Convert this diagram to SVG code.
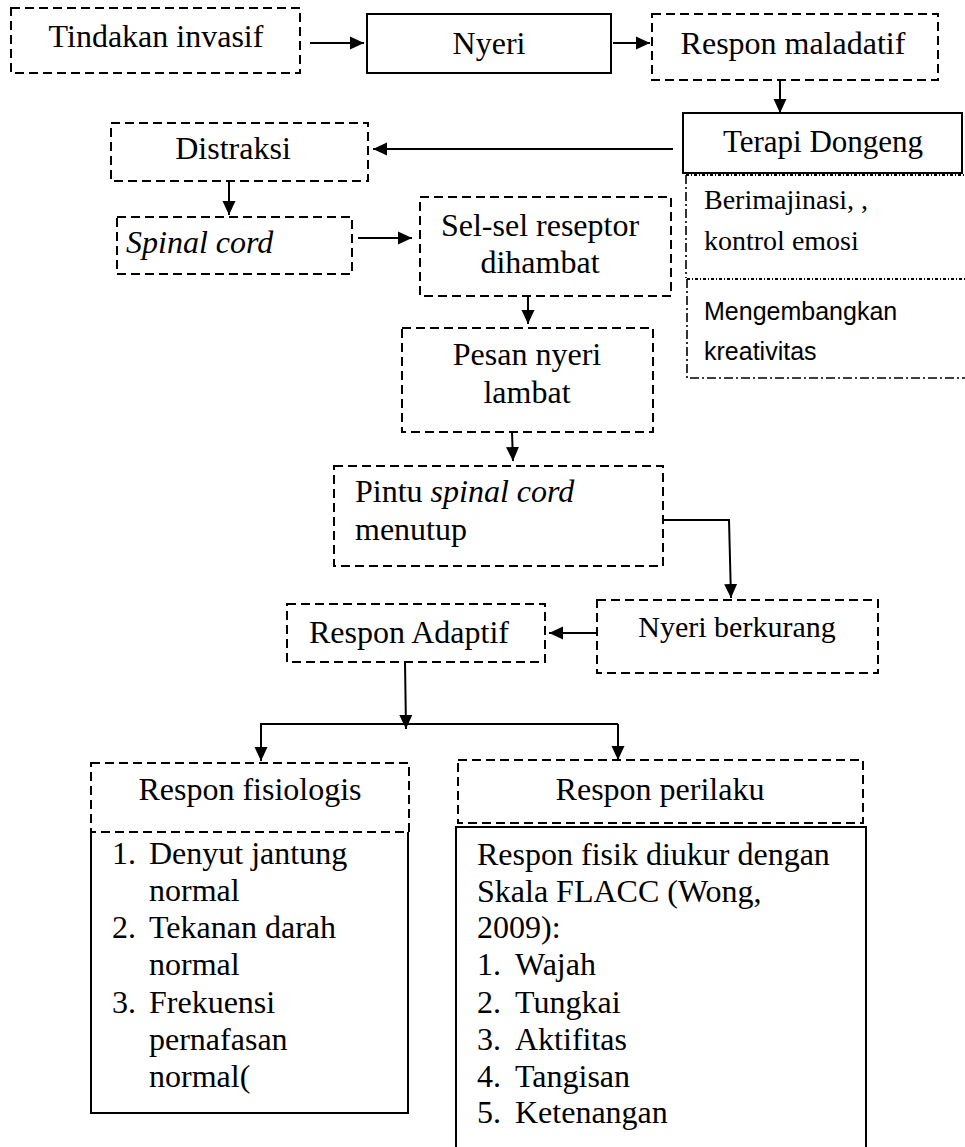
<svg xmlns="http://www.w3.org/2000/svg" width="965" height="1147" viewBox="0 0 965 1147">
<style>
.bg{fill:#fff}
.dash{fill:none;stroke:#000;stroke-width:2;stroke-dasharray:9 5}
.solid{fill:none;stroke:#000;stroke-width:2}
.dd{fill:none;stroke:#000;stroke-width:1.6;stroke-dasharray:9 3 2 3}
.ddt{fill:none;stroke:#000;stroke-width:2.2;stroke-dasharray:3 2 1 2}
.c{fill:none;stroke:#000;stroke-width:2}
text{font-family:"Liberation Serif","Times New Roman",serif;font-size:32px;fill:#000}
.m{text-anchor:middle}
.i{font-style:italic}
.s{font-family:"Liberation Sans",Arial,sans-serif;font-size:25px}
</style>
<defs>
<marker id="ah" viewBox="0 0 14 14" refX="14" refY="7" markerWidth="14" markerHeight="14" markerUnits="userSpaceOnUse" orient="auto"><path d="M0,0.5 L14,7 L0,13.5 z" fill="#000"/></marker>
</defs>
<rect class="bg" x="0" y="0" width="965" height="1147"/>

<g id="connectors">
<line class="c" x1="310" y1="43" x2="364" y2="43" marker-end="url(#ah)"/>
<line class="c" x1="613" y1="43" x2="650" y2="43" marker-end="url(#ah)"/>
<line class="c" x1="780" y1="80" x2="780" y2="113" marker-end="url(#ah)"/>
<line class="c" x1="673" y1="149" x2="373" y2="149" marker-end="url(#ah)"/>
<line class="c" x1="229" y1="181" x2="229" y2="215" marker-end="url(#ah)"/>
<line class="c" x1="358" y1="238" x2="412" y2="238" marker-end="url(#ah)"/>
<line class="c" x1="528" y1="296" x2="528" y2="324" marker-end="url(#ah)"/>
<line class="c" x1="512" y1="432" x2="513" y2="461" marker-end="url(#ah)"/>
<polyline class="c" points="663,520 729,520 731,598" marker-end="url(#ah)"/>
<line class="c" x1="597" y1="633" x2="549" y2="633" marker-end="url(#ah)"/>
<line class="c" x1="405" y1="662" x2="406" y2="729" marker-end="url(#ah)"/>
<line class="c" x1="260" y1="724" x2="618" y2="724"/>
<line class="c" x1="261" y1="724" x2="261" y2="761" marker-end="url(#ah)"/>
<line class="c" x1="618" y1="724" x2="618" y2="760" marker-end="url(#ah)"/>
</g>

<g id="tindakan">
<rect class="dash" x="11" y="8" width="289" height="65"/>
<text class="m" x="156" y="47">Tindakan invasif</text>
</g>
<g id="nyeri">
<rect class="solid" x="367" y="14" width="244" height="59"/>
<text class="m" x="489" y="54">Nyeri</text>
</g>
<g id="respon-maladatif">
<rect class="dash" x="652" y="14" width="286" height="66"/>
<text class="m" x="793" y="54">Respon maladatif</text>
</g>
<g id="terapi-dongeng">
<rect class="solid" x="683" y="113" width="279" height="60"/>
<text class="m" x="823" y="152" style="font-size:31px">Terapi Dongeng</text>
</g>
<g id="berimajinasi">
<path class="ddt" d="M686,175 H965"/>
<path class="dd" d="M686,175 V278"/>
<text x="704" y="209" style="font-size:28px">Berimajinasi, ,</text>
<text x="704" y="250" style="font-size:28px">kontrol emosi</text>
</g>
<g id="mengembangkan">
<path class="ddt" d="M687,279 H965"/>
<path class="dd" d="M687,279 V378 H965"/>
<text class="s" x="704" y="320">Mengembangkan</text>
<text class="s" x="704" y="360">kreativitas</text>
</g>
<g id="distraksi">
<rect class="dash" x="111" y="123" width="257" height="58"/>
<text class="m" x="233" y="159">Distraksi</text>
</g>
<g id="spinal-cord">
<rect class="dash" x="117" y="217" width="235" height="57"/>
<text class="i" x="126" y="253">Spinal cord</text>
</g>
<g id="sel-sel">
<rect class="dash" x="420" y="197" width="251" height="99"/>
<text class="m" x="540" y="236">Sel-sel reseptor</text>
<text class="m" x="540" y="273">dihambat</text>
</g>
<g id="pesan-nyeri">
<rect class="dash" x="402" y="328" width="251" height="104"/>
<text class="m" x="527" y="365">Pesan nyeri</text>
<text class="m" x="527" y="403">lambat</text>
</g>
<g id="pintu">
<rect class="dash" x="334" y="466" width="329" height="100"/>
<text x="355" y="502">Pintu <tspan class="i">spinal cord</tspan></text>
<text x="355" y="540">menutup</text>
</g>
<g id="nyeri-berkurang">
<rect class="dash" x="597" y="600" width="281" height="73"/>
<text class="m" x="737" y="637" style="font-size:30px">Nyeri berkurang</text>
</g>
<g id="respon-adaptif">
<rect class="dash" x="287" y="604" width="258" height="58"/>
<text class="m" x="409" y="643">Respon Adaptif</text>
</g>
<g id="respon-fisiologis">
<rect class="dash" x="91" y="763" width="318" height="69"/>
<text class="m" x="250" y="800">Respon fisiologis</text>
</g>
<g id="list-fisiologis">
<path class="solid" d="M91,832 V1113 H408 V832"/>
<text x="112" y="864">1.</text><text x="149" y="864">Denyut jantung</text>
<text x="149" y="901">normal</text>
<text x="112" y="938">2.</text><text x="149" y="938">Tekanan darah</text>
<text x="149" y="975">normal</text>
<text x="112" y="1013">3.</text><text x="149" y="1013">Frekuensi</text>
<text x="149" y="1050">pernafasan</text>
<text x="149" y="1087">normal(</text>
</g>
<g id="respon-perilaku">
<rect class="dash" x="458" y="760" width="405" height="63"/>
<text class="m" x="660" y="800">Respon perilaku</text>
</g>
<g id="list-perilaku">
<path class="solid" d="M456,1147 V827 H866 V1147"/>
<text x="477" y="865">Respon fisik diukur dengan</text>
<text x="477" y="902">Skala FLACC (Wong,</text>
<text x="477" y="938">2009):</text>
<text x="477" y="975">1.</text><text x="515" y="975">Wajah</text>
<text x="477" y="1013">2.</text><text x="515" y="1013">Tungkai</text>
<text x="477" y="1050">3.</text><text x="515" y="1050">Aktifitas</text>
<text x="477" y="1087">4.</text><text x="515" y="1087">Tangisan</text>
<text x="477" y="1123">5.</text><text x="515" y="1123">Ketenangan</text>
</g>
</svg>
